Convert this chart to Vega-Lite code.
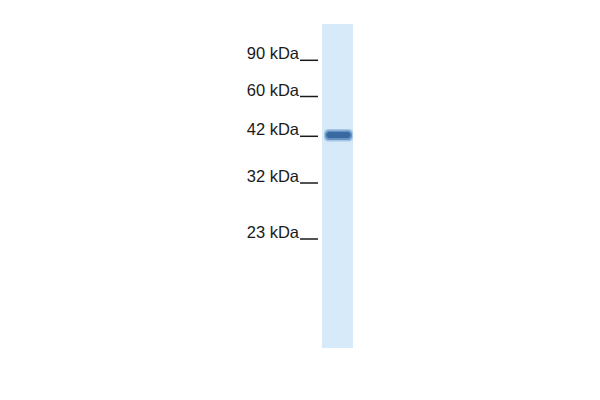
{
  "$schema": "https://vega.github.io/schema/vega-lite/v6.json",
  "width": 600,
  "height": 400,
  "padding": 0,
  "autosize": {"type": "fit", "contains": "padding"},
  "background": "white",
  "config": {"view": {"stroke": null}},
  "datasets": {
    "markers": [
      {"label": "90 kDa", "pos": 60.3},
      {"label": "60 kDa", "pos": 96.5},
      {"label": "42 kDa", "pos": 136.3},
      {"label": "32 kDa", "pos": 183},
      {"label": "23 kDa", "pos": 239}
    ],
    "lane": [
      {"lane": "sample", "left": 322, "right": 353, "top": 24, "bottom": 348}
    ],
    "band": [
      {"layer": "halo", "left": 324, "right": 353, "top": 129, "bottom": 141.5},
      {"layer": "outer", "left": 325, "right": 352, "top": 130.5, "bottom": 140},
      {"layer": "core", "left": 326.5, "right": 350.5, "top": 132, "bottom": 138}
    ]
  },
  "layer": [
    {
      "data": {"name": "lane"},
      "mark": {"type": "rect", "color": "#d6eaf9"},
      "encoding": {
        "x": {"field": "left", "type": "quantitative", "scale": {"domain": [0, 600]}, "axis": null},
        "x2": {"field": "right"},
        "y": {"field": "top", "type": "quantitative", "scale": {"domain": [0, 400], "reverse": true}, "axis": null},
        "y2": {"field": "bottom"}
      }
    },
    {
      "data": {"name": "band"},
      "mark": {"type": "rect", "cornerRadius": 4},
      "encoding": {
        "x": {"field": "left", "type": "quantitative", "scale": {"domain": [0, 600]}, "axis": null},
        "x2": {"field": "right"},
        "y": {"field": "top", "type": "quantitative", "scale": {"domain": [0, 400], "reverse": true}, "axis": null},
        "y2": {"field": "bottom"},
        "color": {
          "field": "layer",
          "type": "nominal",
          "scale": {"domain": ["halo", "outer", "core"], "range": ["#a6c6e6", "#6591c3", "#3a69a1"]},
          "legend": null
        }
      }
    },
    {
      "data": {"name": "markers"},
      "mark": {"type": "rule", "color": "#1a1a1a", "strokeWidth": 1.5},
      "encoding": {
        "x": {"datum": 300, "type": "quantitative", "scale": {"domain": [0, 600]}, "axis": null},
        "x2": {"datum": 318},
        "y": {"field": "pos", "type": "quantitative", "scale": {"domain": [0, 400], "reverse": true}, "axis": null}
      }
    },
    {
      "data": {"name": "markers"},
      "mark": {"type": "text", "align": "right", "baseline": "alphabetic", "font": "Liberation Sans", "fontSize": 16.5, "color": "#1a1a1a", "dy": -1},
      "encoding": {
        "x": {"datum": 299, "type": "quantitative", "scale": {"domain": [0, 600]}, "axis": null},
        "y": {"field": "pos", "type": "quantitative", "scale": {"domain": [0, 400], "reverse": true}, "axis": null},
        "text": {"field": "label"}
      }
    }
  ]
}
